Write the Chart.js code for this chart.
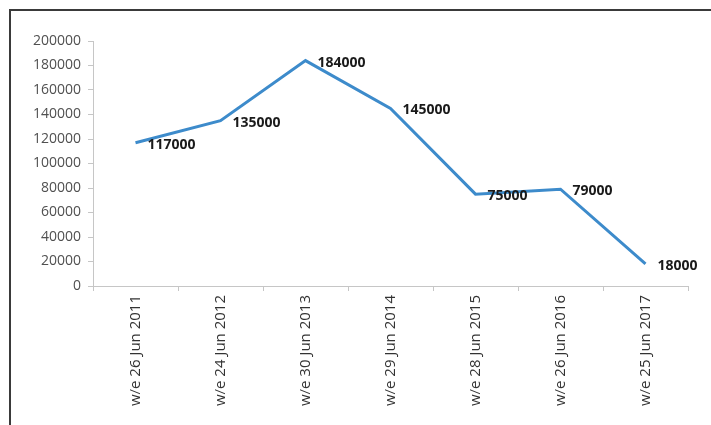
<!DOCTYPE html>
<html>
<head>
<meta charset="utf-8">
<script src="https://cdn.jsdelivr.net/npm/chart.js@4"></script>
<style>
    html, body { margin: 0; padding: 0; background: #fff; }
    #frame {
        position: absolute;
        left: 9px;
        top: 9px;
        width: 760px;
        height: 460px;
        border: 2px solid #3a3a3a;
    }
    #wrap { position: absolute; left: 0; top: 0; width: 711px; height: 425px; }
</style>
</head>
<body>
<div id="frame"></div>
<div id="wrap"><canvas id="myChart" width="711" height="425"></canvas></div>
<script>
const weeks = [
    'w/e 26 Jun 2011',
    'w/e 24 Jun 2012',
    'w/e 30 Jun 2013',
    'w/e 29 Jun 2014',
    'w/e 28 Jun 2015',
    'w/e 26 Jun 2016',
    'w/e 25 Jun 2017',
];
const counts = [117000, 135000, 184000, 145000, 75000, 79000, 18000];
const yTicks = [0, 20000, 40000, 60000, 80000, 100000, 120000, 140000, 160000, 180000, 200000];

const fontFamily = '"Open Sans", "Liberation Sans", sans-serif';

// value labels to the right of each point
const valueLabels = {
    id: 'valueLabels',
    afterDatasetsDraw(chart) {
        const ctx = chart.ctx;
        const meta = chart.getDatasetMeta(0);
        ctx.save();
        ctx.font = 'bold 14px ' + fontFamily;
        ctx.fillStyle = '#1a1a1a';
        ctx.textAlign = 'left';
        ctx.textBaseline = 'middle';
        meta.data.forEach((pt, i) => {
            ctx.fillText(String(counts[i]), pt.x + 12, pt.y + 2);
        });
        ctx.restore();
    },
};

const ctx = document.getElementById('myChart').getContext('2d');
new Chart(ctx, {
    type: 'line',
    data: {
        labels: weeks,
        datasets: [{
            data: counts,
            borderColor: '#3d8bcb',
            backgroundColor: '#3d8bcb',
            borderWidth: 3,
            pointRadius: 0,
            tension: 0,
            fill: false,
        }],
    },
    options: {
        responsive: false,
        animation: false,
        plugins: {
            legend: { display: false },
            tooltip: { enabled: false },
        },
        layout: {
            padding: { left: 0, right: 23, top: 41, bottom: 0 },
        },
        scales: {
            y: {
                min: 0,
                max: 200000,
                afterFit(scale) { scale.width = 93; },
                afterBuildTicks(scale) {
                    scale.ticks = yTicks.map(v => ({ value: v }));
                },
                ticks: {
                    color: '#505050',
                    padding: 7,
                    font: { family: fontFamily, size: 14 },
                    callback: value => String(value),
                },
                border: { display: true, color: '#c6c6c6', width: 1 },
                grid: {
                    drawOnChartArea: false,
                    color: '#c6c6c6',
                    tickLength: 5,
                },
            },
            x: {
                offset: true,
                afterFit(scale) { scale.height = 139; },
                ticks: {
                    color: '#333333',
                    minRotation: 90,
                    maxRotation: 90,
                    padding: 4,
                    font: { family: fontFamily, size: 15 },
                },
                border: { display: true, color: '#c6c6c6', width: 1 },
                grid: {
                    offset: true,
                    drawOnChartArea: false,
                    color: '#c6c6c6',
                    tickLength: 5,
                },
            },
        },
    },
    plugins: [valueLabels],
});
</script>
</body>
</html>
